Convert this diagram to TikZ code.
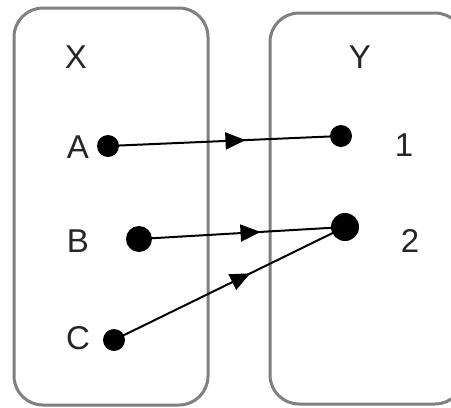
\documentclass[tikz,border=0pt]{standalone}
\usepackage{fontspec}
\setmainfont{Liberation Sans}
\usetikzlibrary{arrows.meta,decorations.markings}
\tikzset{
  setbox/.style={draw=black!50, line width=3pt, rounded corners=29pt},
  lbl/.style={font=\fontsize{33}{36}\selectfont, inner sep=0pt, text=black!85},
  dot/.style={circle, fill=black, inner sep=0pt, minimum size=#1},
  maparrow/.style={line width=2pt, postaction={decorate}, decoration={markings,
      mark=at position 0.59 with {\arrow{Triangle[length=20pt,width=17pt]}}}}
}
\begin{document}
\begin{tikzpicture}[x=1pt,y=-1pt]
\clip (0,0) rectangle (451,408);
\fill[white] (0,0) rectangle (451,408);
\draw[setbox] (14,8) rectangle (208,405);
\draw[setbox] (270,13) rectangle (464,404);
\node[lbl] (X) at (76,57) {X};
\node[lbl] (Y) at (360,57) {Y};
\node[lbl] (A) at (78,147) {A};
\node[lbl] (B) at (78,241) {B};
\node[lbl] (C) at (78,338) {C};
\node[lbl] (one) at (404,145) {1};
\node[lbl] (two) at (410,241) {2};
\node[dot=22pt] (a) at (108,146) {};
\node[dot=22pt] (p1) at (341,136) {};
\node[dot=26pt] (b) at (139,239) {};
\node[dot=28pt] (p2) at (345,227) {};
\node[dot=22pt] (c) at (114,340) {};
\draw[maparrow] (a.center) -- (p1.center);
\draw[maparrow] (b.center) -- (p2.center);
\draw[maparrow] (c.center) -- (p2.center);
\end{tikzpicture}
\end{document}
